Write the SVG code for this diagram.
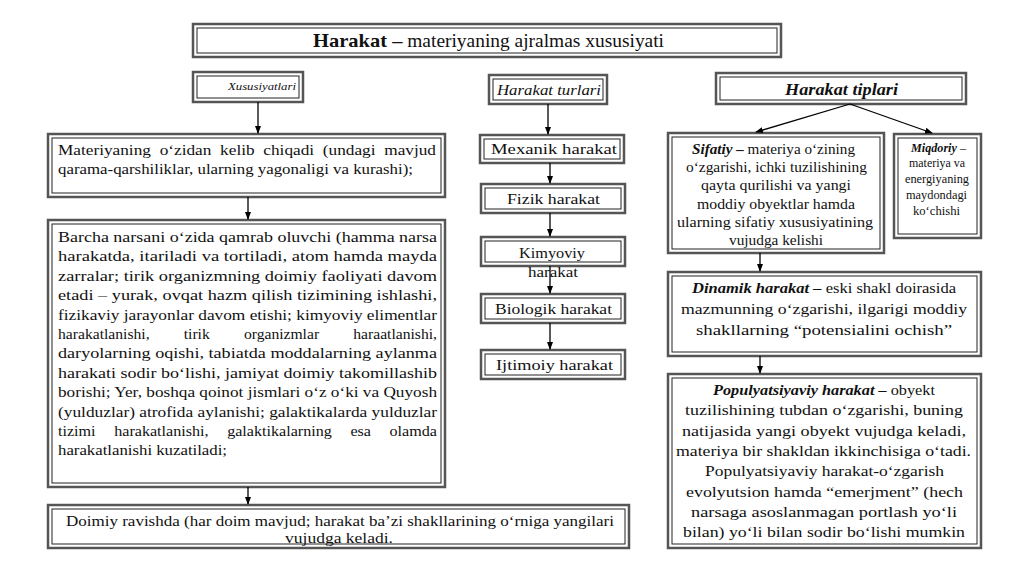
<svg xmlns="http://www.w3.org/2000/svg" width="1024" height="574" viewBox="0 0 1024 574" font-family="'Liberation Serif', 'Times New Roman', 'DejaVu Serif', serif">
<defs>
<marker id="ah" markerWidth="8" markerHeight="8" refX="7" refY="4" orient="auto" markerUnits="userSpaceOnUse">
<path d="M0,1 L8,4 L0,7 Z" fill="#000"/>
</marker>
<style>
.o{fill:#fff;stroke:#555;stroke-width:2.5}
.i{fill:none;stroke:#222;stroke-width:1}
text{fill:#111}
.c{text-anchor:middle}
.l{font-size:15.5px}
.conn line{stroke:#000;stroke-width:1.3;marker-end:url(#ah)}
</style>
</defs>
<rect width="1024" height="574" fill="#fff"/>

<g id="title">
<rect class="o" x="193" y="24" width="588" height="33"/>
<rect class="i" x="197" y="28" width="580" height="25"/>
<text x="313" y="47" font-size="18" textLength="351" lengthAdjust="spacingAndGlyphs"><tspan font-weight="bold" font-size="19">Harakat –</tspan> materiyaning ajralmas xususiyati</text>
</g>

<g id="xususiyatlari">
<rect class="o" x="193" y="72" width="110" height="30"/>
<rect class="i" x="197" y="76" width="102" height="22"/>
<text x="228" y="90" font-size="10.5" font-style="italic" textLength="68" lengthAdjust="spacingAndGlyphs">Xususiyatlari</text>
</g>

<g id="turlari">
<rect class="o" x="489" y="75" width="118" height="29"/>
<rect class="i" x="493" y="79" width="110" height="21"/>
<text x="497" y="95" font-size="15.5" font-style="italic" textLength="104" lengthAdjust="spacingAndGlyphs">Harakat turlari</text>
</g>

<g id="tiplari">
<rect class="o" x="716" y="73" width="250" height="31"/>
<rect class="i" x="720" y="77" width="242" height="23"/>
<text x="785" y="95" font-size="17.5" font-style="italic" font-weight="bold" textLength="113" lengthAdjust="spacingAndGlyphs">Harakat tiplari</text>
</g>

<g id="materiyaning">
<rect class="o" x="48" y="134" width="397" height="63"/>
<rect class="i" x="52" y="138" width="389" height="55"/>
<text class="l" x="58" y="155" textLength="378" lengthAdjust="spacingAndGlyphs" word-spacing="4">Materiyaning o‘zidan kelib chiqadi (undagi mavjud</text>
<text class="l" x="58" y="174" textLength="355" lengthAdjust="spacingAndGlyphs">qarama-qarshiliklar, ularning yagonaligi va kurashi);</text>
</g>

<g id="barcha">
<rect class="o" x="48" y="220" width="397" height="267"/>
<rect class="i" x="52" y="224" width="389" height="259"/>
<text class="l" x="58" y="242" textLength="379" lengthAdjust="spacingAndGlyphs">Barcha narsani o‘zida qamrab oluvchi (hamma narsa</text>
<text class="l" x="58" y="261.4" textLength="379" lengthAdjust="spacingAndGlyphs">harakatda, itariladi va tortiladi, atom hamda mayda</text>
<text class="l" x="58" y="280.8" textLength="379" lengthAdjust="spacingAndGlyphs">zarralar; tirik organizmning doimiy faoliyati davom</text>
<text class="l" x="58" y="300.2" textLength="379" lengthAdjust="spacingAndGlyphs">etadi – yurak, ovqat hazm qilish tizimining ishlashi,</text>
<text class="l" x="58" y="319.6" textLength="379" lengthAdjust="spacingAndGlyphs">fizikaviy jarayonlar davom etishi; kimyoviy elimentlar</text>
<text class="l" x="58" y="339" textLength="379" lengthAdjust="spacingAndGlyphs" word-spacing="30">harakatlanishi, tirik organizmlar haraatlanishi,</text>
<text class="l" x="58" y="358.4" textLength="379" lengthAdjust="spacingAndGlyphs">daryolarning oqishi, tabiatda moddalarning aylanma</text>
<text class="l" x="58" y="377.8" textLength="379" lengthAdjust="spacingAndGlyphs">harakati sodir bo‘lishi, jamiyat doimiy takomillashib</text>
<text class="l" x="58" y="397.2" textLength="379" lengthAdjust="spacingAndGlyphs">borishi; Yer, boshqa qoinot jismlari o‘z o‘ki va Quyosh</text>
<text class="l" x="58" y="416.6" textLength="379" lengthAdjust="spacingAndGlyphs">(yulduzlar) atrofida aylanishi; galaktikalarda yulduzlar</text>
<text class="l" x="58" y="436" textLength="379" lengthAdjust="spacingAndGlyphs" word-spacing="14">tizimi harakatlanishi, galaktikalarning esa olamda</text>
<text class="l" x="58" y="455.4" textLength="169" lengthAdjust="spacingAndGlyphs">harakatlanishi kuzatiladi;</text>
</g>

<g id="doimiy">
<rect class="o" x="48" y="505" width="581" height="43"/>
<rect class="i" x="52" y="509" width="573" height="35"/>
<text class="l" x="66" y="526" textLength="548" lengthAdjust="spacingAndGlyphs">Doimiy ravishda  (har doim mavjud; harakat ba’zi shakllarining o‘rniga yangilari</text>
<text class="l" x="285" y="543" textLength="108" lengthAdjust="spacingAndGlyphs">vujudga keladi.</text>
</g>

<g id="mexanik">
<rect class="o" x="480" y="135" width="144" height="28"/>
<rect class="i" x="484" y="139" width="136" height="20"/>
<text x="491" y="154" font-size="15.5" textLength="126" lengthAdjust="spacingAndGlyphs">Mexanik harakat</text>
</g>

<g id="fizik">
<rect class="o" x="481" y="184" width="144" height="29"/>
<rect class="i" x="485" y="188" width="136" height="21"/>
<text x="507" y="204" font-size="15.5" textLength="93" lengthAdjust="spacingAndGlyphs">Fizik harakat</text>
</g>

<g id="kimyoviy">
<rect class="o" x="481" y="237" width="144" height="29"/>
<rect class="i" x="485" y="241" width="136" height="21"/>
<text x="519" y="258" font-size="15.5" textLength="66" lengthAdjust="spacingAndGlyphs">Kimyoviy</text>
<text x="528" y="277" font-size="15.5" textLength="50" lengthAdjust="spacingAndGlyphs">harakat</text>
</g>

<g id="biologik">
<rect class="o" x="481" y="294" width="144" height="29"/>
<rect class="i" x="485" y="298" width="136" height="21"/>
<text x="495" y="314" font-size="15.5" textLength="117" lengthAdjust="spacingAndGlyphs">Biologik harakat</text>
</g>

<g id="ijtimoiy">
<rect class="o" x="481" y="350" width="144" height="29"/>
<rect class="i" x="485" y="354" width="136" height="21"/>
<text x="496" y="370" font-size="15.5" textLength="117" lengthAdjust="spacingAndGlyphs">Ijtimoiy harakat</text>
</g>

<g id="sifatiy" font-size="14">
<rect class="o" x="668" y="133" width="216" height="120"/>
<rect class="i" x="672" y="137" width="208" height="112"/>
<text x="692" y="154" textLength="163" lengthAdjust="spacingAndGlyphs"><tspan font-weight="bold" font-style="italic">Sifatiy –</tspan> materiya o‘zining</text>
<text x="686" y="172" textLength="181" lengthAdjust="spacingAndGlyphs">o‘zgarishi, ichki tuzilishining</text>
<text x="701" y="190" textLength="150" lengthAdjust="spacingAndGlyphs">qayta qurilishi va yangi</text>
<text x="697" y="209" textLength="158" lengthAdjust="spacingAndGlyphs">moddiy obyektlar hamda</text>
<text x="677" y="227" textLength="196" lengthAdjust="spacingAndGlyphs">ularning sifatiy xususiyatining</text>
<text x="729" y="245" textLength="94" lengthAdjust="spacingAndGlyphs">vujudga kelishi</text>
</g>

<g id="miqdoriy" font-size="11.5">
<rect class="o" x="894" y="134" width="87" height="104"/>
<rect class="i" x="898" y="138" width="79" height="96"/>
<text x="911" y="152" textLength="55" lengthAdjust="spacingAndGlyphs"><tspan font-weight="bold" font-style="italic">Miqdoriy</tspan> –</text>
<text x="909" y="167" textLength="56" lengthAdjust="spacingAndGlyphs">materiya va</text>
<text x="905" y="183" textLength="64" lengthAdjust="spacingAndGlyphs">energiyaning</text>
<text x="906" y="199" textLength="61" lengthAdjust="spacingAndGlyphs">maydondagi</text>
<text x="913" y="215" textLength="47" lengthAdjust="spacingAndGlyphs">ko‘chishi</text>
</g>

<g id="dinamik" font-size="15.5">
<rect class="o" x="668" y="272" width="313" height="84"/>
<rect class="i" x="672" y="276" width="305" height="76"/>
<text x="692" y="293" textLength="264" lengthAdjust="spacingAndGlyphs"><tspan font-weight="bold" font-style="italic">Dinamik harakat –</tspan> eski shakl doirasida</text>
<text x="681" y="314" textLength="286" lengthAdjust="spacingAndGlyphs">mazmunning o‘zgarishi, ilgarigi moddiy</text>
<text x="696" y="335" textLength="256" lengthAdjust="spacingAndGlyphs">shakllarning “potensialini ochish”</text>
</g>

<g id="populyatsiyaviy" font-size="15.5">
<rect class="o" x="668" y="374" width="313" height="174"/>
<rect class="i" x="672" y="378" width="305" height="166"/>
<text x="713" y="395" textLength="222" lengthAdjust="spacingAndGlyphs"><tspan font-weight="bold" font-style="italic">Populyatsiyaviy harakat –</tspan> obyekt</text>
<text x="685" y="415.3" textLength="278" lengthAdjust="spacingAndGlyphs">tuzilishining tubdan o‘zgarishi, buning</text>
<text x="682" y="435.6" textLength="284" lengthAdjust="spacingAndGlyphs">natijasida yangi obyekt vujudga keladi,</text>
<text x="676" y="455.9" textLength="295" lengthAdjust="spacingAndGlyphs">materiya bir shakldan ikkinchisiga o‘tadi.</text>
<text x="705" y="476.2" textLength="239" lengthAdjust="spacingAndGlyphs">Populyatsiyaviy harakat-o‘zgarish</text>
<text x="686" y="496.5" textLength="277" lengthAdjust="spacingAndGlyphs">evolyutsion hamda “emerjment” (hech</text>
<text x="691" y="516.8" textLength="266" lengthAdjust="spacingAndGlyphs">narsaga asoslanmagan portlash yo‘li</text>
<text x="683" y="537.1" textLength="282" lengthAdjust="spacingAndGlyphs">bilan) yo‘li bilan sodir bo‘lishi mumkin</text>
</g>

<g id="connectors" class="conn">
<line x1="258" y1="102" x2="258" y2="133"/>
<line x1="548" y1="104" x2="548" y2="134"/>
<line x1="850" y1="104" x2="756" y2="132"/>
<line x1="850" y1="104" x2="932" y2="133"/>
<line x1="248" y1="197" x2="248" y2="219"/>
<line x1="248" y1="487" x2="248" y2="504"/>
<line x1="550" y1="163" x2="550" y2="183"/>
<line x1="550" y1="213" x2="550" y2="236"/>
<line x1="550" y1="266" x2="550" y2="293"/>
<line x1="550" y1="323" x2="550" y2="349"/>
<line x1="760" y1="253" x2="760" y2="271"/>
<line x1="760" y1="356" x2="760" y2="373"/>
</g>
</svg>
